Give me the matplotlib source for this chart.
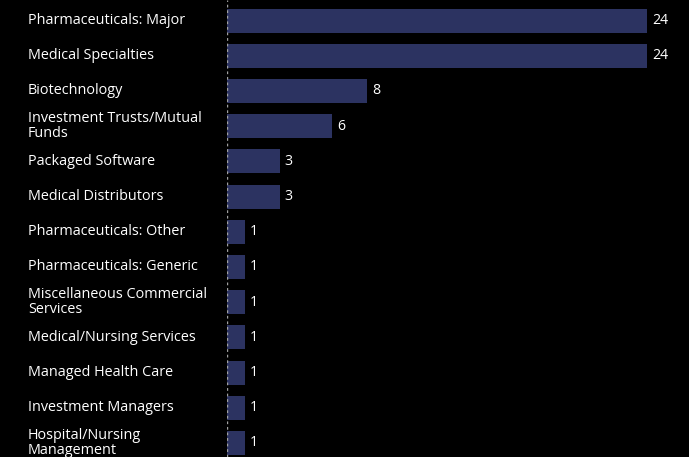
import matplotlib
matplotlib.use("Agg")
import matplotlib.pyplot as plt

categories = [
    "Pharmaceuticals: Major",
    "Medical Specialties",
    "Biotechnology",
    "Investment Trusts/Mutual\nFunds",
    "Packaged Software",
    "Medical Distributors",
    "Pharmaceuticals: Other",
    "Pharmaceuticals: Generic",
    "Miscellaneous Commercial\nServices",
    "Medical/Nursing Services",
    "Managed Health Care",
    "Investment Managers",
    "Hospital/Nursing\nManagement",
]
values = [24, 24, 8, 6, 3, 3, 1, 1, 1, 1, 1, 1, 1]

W, H = 689, 457
fig = plt.figure(figsize=(W / 100, H / 100), dpi=100, facecolor="black")
x0 = 227
ax = fig.add_axes([x0 / W, 0, 1 - x0 / W, 1], facecolor="black")

pitch = 35.2
top_c = 20.5
ypos = list(range(len(categories)))
ax.barh(ypos, values, height=24 / pitch, color="#2c3361", zorder=2)
ax.set_xlim(0, (W - x0) / 17.5)
ax.set_ylim((H - top_c) / pitch, -top_c / pitch)
ax.axis("off")
ax.axvline(0, color="#a0a0a0", linestyle=(0, (2, 2)), linewidth=1, zorder=3)

font = "Open Sans"
for y, v, c in zip(ypos, values, categories):
    ax.text(v + 5 / 17.5, y, str(v), color="white", va="center", ha="left",
            fontsize=10.2, family=font)
    ax.text(-(x0 - 28) / 17.5, y, c, color="white", va="center", ha="left",
            fontsize=10.4, family=font, linespacing=1.0)

fig.savefig("out.png", dpi=100, facecolor="black")
